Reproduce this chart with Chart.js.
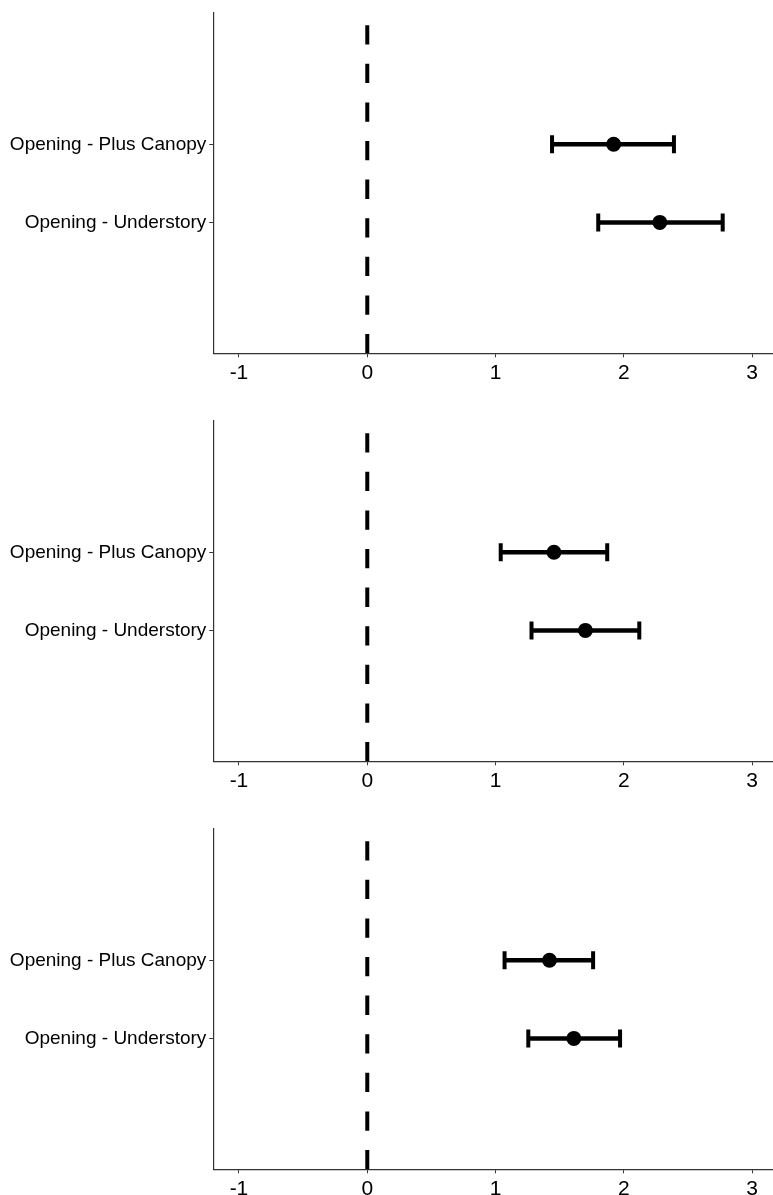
<!DOCTYPE html>
<html>
<head>
<meta charset="utf-8">
<script src="https://cdn.jsdelivr.net/npm/chart.js@4.4.0/dist/chart.umd.min.js"></script>
<style>
  html, body { margin: 0; padding: 0; background: #fff; overflow: hidden; width: 773px; height: 1195px; }
  canvas { display: block; }
</style>
</head>
<body>
<canvas id="c1" width="773" height="408"></canvas>
<canvas id="c2" width="773" height="408"></canvas>
<canvas id="c3" width="773" height="408"></canvas>
<script>
// ---- data ----
const categories = ["Opening - Plus Canopy", "Opening - Understory"];
const xTicks = [-1, 0, 1, 2, 3];

const panel1Est  = [1.92, 2.28];
const panel1Low  = [1.44, 1.80];
const panel1High = [2.39, 2.77];

const panel2Est  = [1.455, 1.70];
const panel2Low  = [1.04, 1.28];
const panel2High = [1.87, 2.12];

const panel3Est  = [1.42, 1.61];
const panel3Low  = [1.07, 1.255];
const panel3High = [1.76, 1.97];

const refLine = 0;

// ---- chart builder ----
const Y_MIN = -0.676, Y_MAX = 3.685;
const X_MIN = -1.2, X_MAX = 3.162;
const FONT = "'Liberation Sans', Arial, sans-serif";

function makeChart(id, est, low, high) {
  const yPos = categories.map((c, i) => categories.length - i);
  const datasets = [];
  datasets.push({
    data: est.map((v, i) => ({ x: v, y: yPos[i] })),
    showLine: false,
    pointRadius: 7.5, pointHoverRadius: 7.5,
    pointBackgroundColor: '#000', pointBorderColor: '#000', pointBorderWidth: 0,
    order: 0
  });
  categories.forEach((c, i) => {
    datasets.push({
      data: [{ x: low[i], y: yPos[i] }, { x: high[i], y: yPos[i] }],
      showLine: true,
      borderColor: '#000', borderWidth: 4.5,
      pointStyle: 'line', rotation: 90,
      pointRadius: 9, pointHoverRadius: 9,
      pointBorderWidth: 4, pointBorderColor: '#000', pointBackgroundColor: '#000',
      order: 1
    });
  });
  datasets.push({
    data: [{ x: refLine, y: Y_MIN }, { x: refLine, y: Y_MAX }],
    showLine: true,
    borderColor: '#000', borderWidth: 4, borderDash: [19.3, 19.3],
    borderCapStyle: 'butt',
    pointRadius: 0, pointHoverRadius: 0,
    order: 2
  });

  new Chart(document.getElementById(id), {
    type: 'scatter',
    data: { datasets },
    options: {
      responsive: false,
      animation: false,
      events: [],
      layout: { autoPadding: false, padding: { top: 12.7, left: 0, right: 0, bottom: 0 } },
      plugins: { legend: { display: false }, tooltip: { enabled: false } },
      scales: {
        x: {
          type: 'linear', min: X_MIN, max: X_MAX,
          afterBuildTicks: s => { s.ticks = xTicks.map(v => ({ value: v })); },
          afterFit: s => { s.height = 54.7; s.paddingLeft = 0; s.paddingRight = 0; },
          ticks: { font: { family: FONT, size: 21 }, color: '#000', padding: 3 },
          grid: { display: true, drawOnChartArea: false, drawTicks: true, tickLength: 4, tickColor: '#333', tickWidth: 1 },
          border: { display: true, color: '#333', width: 1.2 }
        },
        y: {
          type: 'linear', min: Y_MIN, max: Y_MAX,
          afterBuildTicks: s => { s.ticks = yPos.map(v => ({ value: v })); },
          afterFit: s => { s.width = 213.3; s.paddingTop = 0; s.paddingBottom = 0; },
          ticks: {
            font: { family: FONT, size: 19 }, color: '#000', padding: 3,
            callback: v => categories[categories.length - v]
          },
          grid: { display: true, drawOnChartArea: false, drawTicks: true, tickLength: 4, tickColor: '#333', tickWidth: 1 },
          border: { display: true, color: '#333', width: 1.2 }
        }
      }
    }
  });
}

makeChart('c1', panel1Est, panel1Low, panel1High);
makeChart('c2', panel2Est, panel2Low, panel2High);
makeChart('c3', panel3Est, panel3Low, panel3High);
</script>
</body>
</html>
